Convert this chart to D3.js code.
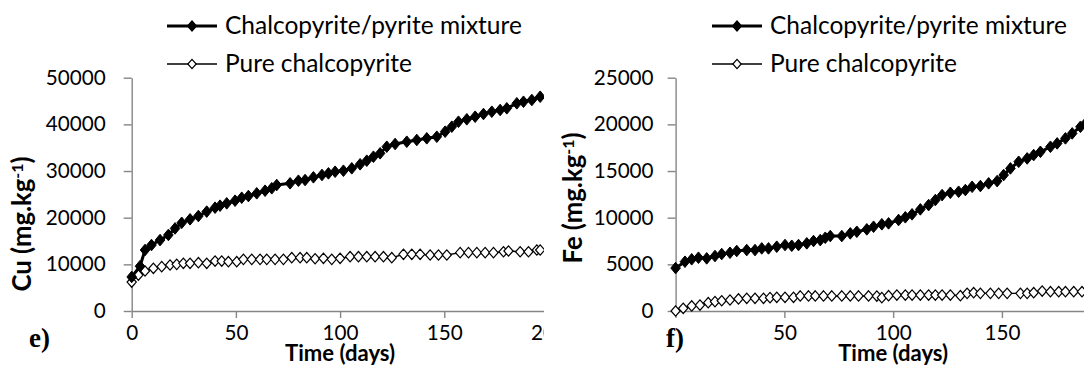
<!DOCTYPE html>
<html><head><meta charset="utf-8">
<script src="https://cdn.jsdelivr.net/npm/d3@7"></script>
<style>body{margin:0;background:#fff}svg{display:block}</style>
</head><body>
<svg id="c" width="1084" height="375"></svg>
<script>
// ---------- data ----------
const xTicks = [0, 50, 100, 150, 200];
const cuTicks = [0, 10000, 20000, 30000, 40000, 50000];
const feTicks = [0, 5000, 10000, 15000, 20000, 25000];
const seriesNames = ["Chalcopyrite/pyrite mixture", "Pure chalcopyrite"];

const cuMixDays = [0,4,6.4,9.5,13.6,17.6,20.8,24,28,32,36,40,42.4,45.6,49.6,52.8,56,60,64,67.2,69.6,76,80,83.2,87.2,91.3,94.4,97.6,101.6,105.6,109.6,112.8,116,119.2,122.4,126.4,132,136.8,141.6,146.4,150.4,153.6,156.8,160.8,164.8,168.8,172.8,176.8,180,184.8,188,192,196];
const cuMixVals = [7300,9600,13070,14140,15200,16300,17700,18900,19650,20360,21300,22140,22570,23070,23640,24280,24640,25220,25780,26300,27000,27370,27920,28070,28650,29150,29500,29850,30070,30580,31440,32210,33070,33800,35210,35790,36280,36650,37010,37350,38430,39500,40570,41080,41640,42220,42710,43080,43440,44510,44850,45220,45920];

const cuPureDays = [0,3.2,6.4,10.4,14.4,18.4,21.6,24.8,28,32,36,40,43.2,46.4,50.4,53.6,57.6,61.6,64.8,68.8,72.8,76.8,80.8,84,88,92,96,100,104.8,108.8,112.8,116.8,120.8,124.8,130.4,134.4,138.4,143.2,147.2,151.2,157.6,161.6,165.6,169.6,173.6,178.4,180.8,186.4,190.4,194.4,196];
const cuPureVals = [6200,7700,8570,9150,9500,9860,10000,10220,10220,10350,10220,10710,10710,10570,10570,11070,11070,11070,11070,11070,11070,11420,11420,11420,11200,11290,11070,11290,11640,11640,11640,11640,11640,11420,12150,12150,12150,12000,12000,12000,12500,12500,12500,12500,12500,12700,12860,12700,12700,13070,13070];

const feMixDays = [0,4.3,7.4,10.5,14.3,18.1,21.2,25,28.1,32.7,36.5,39.6,42.7,46.5,50.3,53.4,56.5,60.3,63.4,66.5,68.8,71.1,76.4,80.3,83.3,87.9,91,94.8,97.9,102.5,105.6,108.7,112.5,116.3,119.4,122.5,126.3,130.1,133.2,136.3,140.1,143.9,147.8,150.8,153.9,157.7,161.6,164.6,167.7,172.3,175.4,179.2,182.3,186.1,188.4];
const feMixVals = [4600,5280,5540,5710,5640,5890,6100,6240,6430,6530,6530,6710,6710,6890,7070,6990,7070,7250,7500,7600,7850,8030,8030,8320,8490,8750,9030,9290,9390,9750,10040,10360,10890,11350,11890,12420,12670,12780,12960,13310,13390,13680,13920,14570,15280,15990,16350,16710,17060,17600,17960,18500,19030,19740,20100];

const fePureDays = [0,3.5,7.4,11.2,15,18.1,21.2,25,28.9,32.7,36.5,40.4,43.4,46.5,50.3,54.2,57.3,61.1,64.2,68,71.8,76.4,80.3,84.1,88.7,92.5,94.8,97.9,101.7,105.6,108.7,112.5,116.3,119.4,122.5,126.3,130.9,134,137,140.1,144.7,148.5,152.4,158.5,161.6,164.6,168.5,172.3,176.1,179.2,183,186.8];
const fePureVals = [0,290,540,640,890,1000,1100,1180,1290,1360,1360,1360,1430,1470,1470,1470,1610,1610,1610,1610,1610,1610,1610,1610,1610,1600,1430,1640,1710,1710,1710,1710,1710,1710,1710,1710,1640,1890,1960,1890,1890,1890,1890,1890,1890,1960,2140,2070,2070,2070,2070,2070];

// ---------- drawing ----------
const svg = d3.select("#c");
const FONT = "Lato, 'Open Sans', sans-serif";
const AXIS = "#868686";

function zip(d, v) { return d.map((x, i) => ({x, y: v[i]})); }

// font size that makes `str` exactly `w` px wide
function sizeFor(str, w, weight) {
  const t = svg.append("text").attr("font-family", FONT).attr("font-size", 20)
    .attr("font-weight", weight || "normal").text(str);
  const cur = t.node().getComputedTextLength();
  t.remove();
  return 20 * w / cur;
}
const TICK_FS = sizeFor("50000", 60);
const LEG_FS = sizeFor(seriesNames[0], 297);
const TITLE_FS = sizeFor("Time (days)", 110, "bold");
const YTITLE_FS = sizeFor("Cu (mg.kg)", 120, "bold");

function diamondPath(hw, hh) { return `M0,${-hh}L${hw},0L0,${hh}L${-hw},0Z`; }

function panel(cfg) {
  const g = svg.append("g");
  if (cfg.bg) {
    g.append("rect").attr("x", cfg.bg[0]).attr("y", 0)
      .attr("width", cfg.bg[1] - cfg.bg[0]).attr("height", 375).attr("fill", "#fff");
  }
  const clipId = "clip" + cfg.id;
  svg.append("defs").append("clipPath").attr("id", clipId)
    .append("rect").attr("x", cfg.clip[0]).attr("y", 0)
    .attr("width", cfg.clip[1] - cfg.clip[0]).attr("height", 375);
  const inner = g.append("g").attr("clip-path", `url(#${clipId})`);

  const x = d3.scaleLinear().domain([0, 200]).range(cfg.xr);
  const y = d3.scaleLinear().domain([0, cfg.yTicks[cfg.yTicks.length - 1]]).range([311, 77.7]);

  // y axis
  const ya = inner.append("g").attr("transform", `translate(${cfg.xr[0]},0)`)
    .call(d3.axisLeft(y).tickValues(cfg.yTicks).tickSize(8).tickSizeOuter(0).tickPadding(cfg.yPad).tickFormat(d3.format("d")));
  ya.select(".domain").attr("stroke", AXIS).attr("stroke-width", 1.4);
  ya.selectAll(".tick line").attr("stroke", AXIS).attr("stroke-width", 1.4);
  ya.selectAll(".tick text").attr("font-family", FONT).attr("font-size", TICK_FS).attr("fill", "#000");

  // x axis
  const shown = cfg.xLabels;
  const xa = inner.append("g").attr("transform", `translate(0,311)`)
    .call(d3.axisBottom(x).tickValues(xTicks).tickSize(7).tickSizeOuter(0).tickPadding(7)
      .tickFormat(d => shown.includes(d) ? d3.format("d")(d) : ""));
  xa.select(".domain").attr("stroke", AXIS).attr("stroke-width", 1.4);
  xa.selectAll(".tick line").attr("stroke", AXIS).attr("stroke-width", 1.4);
  xa.selectAll(".tick text").attr("font-family", FONT).attr("font-size", TICK_FS).attr("fill", "#000");
  xa.selectAll(".tick text").filter(function() { return this.textContent === ""; }).remove();

  const line = d3.line().x(d => x(d.x)).y(d => y(d.y));

  // pure series
  const pure = zip(cfg.pure[0], cfg.pure[1]);
  inner.append("path").datum(pure).attr("d", line).attr("fill", "none").attr("stroke", "#000").attr("stroke-width", 1.3);
  inner.selectAll(".pm").data(pure).enter().append("path")
    .attr("transform", d => `translate(${x(d.x)},${y(d.y)})`)
    .attr("d", diamondPath(4.6, 5.2)).attr("fill", "#fff").attr("stroke", "#000").attr("stroke-width", 1.2);

  // mixture series
  const mix = zip(cfg.mix[0], cfg.mix[1]);
  inner.append("path").datum(mix).attr("d", line).attr("fill", "none").attr("stroke", "#000").attr("stroke-width", 3);
  inner.selectAll(".mm").data(mix).enter().append("path")
    .attr("transform", d => `translate(${x(d.x)},${y(d.y)})`)
    .attr("d", diamondPath(4.8, 5.8)).attr("fill", "#000").attr("stroke", "#000").attr("stroke-width", 1);

  // x title
  inner.append("text").attr("x", (cfg.xr[0] + cfg.xr[1]) / 2).attr("y", 361)
    .attr("text-anchor", "middle").attr("font-family", FONT).attr("font-weight", "bold")
    .attr("font-size", TITLE_FS).text("Time (days)");

  // y title
  const yt = inner.append("text").attr("transform", `translate(${cfg.ytx},${cfg.yty}) rotate(-90)`)
    .attr("text-anchor", "middle").attr("font-family", FONT).attr("font-weight", "bold").attr("font-size", YTITLE_FS);
  yt.append("tspan").text(cfg.elem + " (mg.kg");
  yt.append("tspan").attr("dy", -8).attr("font-size", YTITLE_FS * 0.62).text("-1");
  yt.append("tspan").attr("dy", 8).text(")");

  // panel letter
  inner.append("text").attr("x", cfg.letterX).attr("y", 347).attr("font-family", "'Liberation Serif', serif")
    .attr("font-weight", "bold").attr("font-size", 27).text(cfg.letter);

  // legend
  const lg = inner.append("g");
  const items = [{name: seriesNames[0], w: 3, fill: "#000", y: 26, hw: 4.5, hh: 5.2},
                 {name: seriesNames[1], w: 1.3, fill: "#fff", y: 64, hw: 4.2, hh: 4.6}];
  items.forEach(it => {
    lg.append("line").attr("x1", cfg.legX).attr("x2", cfg.legX + 50).attr("y1", it.y).attr("y2", it.y)
      .attr("stroke", "#000").attr("stroke-width", it.w);
    lg.append("path").attr("transform", `translate(${cfg.legX + 25},${it.y})`)
      .attr("d", diamondPath(it.hw, it.hh)).attr("fill", it.fill).attr("stroke", "#000").attr("stroke-width", 1.2);
    lg.append("text").attr("x", cfg.legX + 58).attr("y", it.y + 8).attr("font-family", FONT)
      .attr("font-size", LEG_FS).text(it.name);
  });
}

panel({id: "e", xr: [131.7, 548.5], clip: [0, 544], yTicks: cuTicks, elem: "Cu", yPad: 18,
  xLabels: [0, 50, 100, 150, 200],
  mix: [cuMixDays, cuMixVals], pure: [cuPureDays, cuPureVals],
  ytx: 31, yty: 224, letter: "e)", letterX: 29, legX: 167});
panel({id: "f", xr: [675.6, 1110.7], clip: [544, 1084], bg: [544, 1084], yTicks: feTicks, elem: "Fe", yPad: 14,
  xLabels: [50, 100, 150],
  mix: [feMixDays, feMixVals], pure: [fePureDays, fePureVals],
  ytx: 582, yty: 198, letter: "f)", letterX: 666, legX: 712});
</script>
</body></html>
